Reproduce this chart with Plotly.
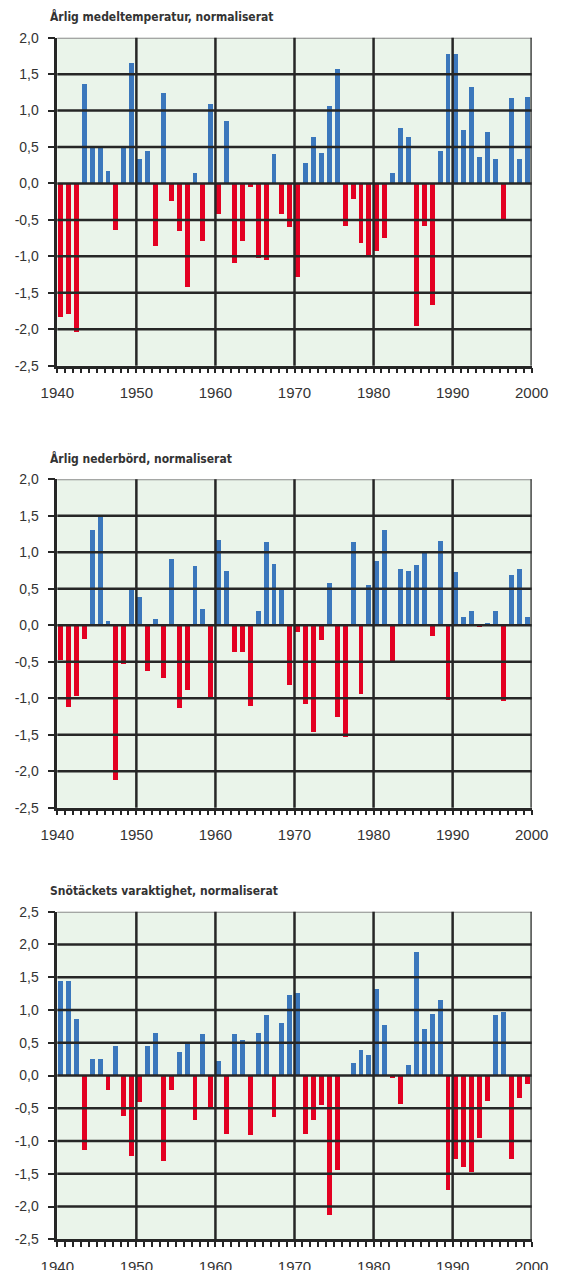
import plotly.graph_objects as go

years = list(range(1940, 2000))

temperature = [
    -1.83, -1.78, -2.04, 1.37, 0.52, 0.49, 0.18, -0.63, 0.52, 1.66,
    0.34, 0.45, -0.85, 1.25, -0.23, -0.65, -1.42, 0.15, -0.78, 1.10,
    -0.42, 0.86, -1.08, -0.79, -0.04, -1.02, -1.05, 0.41, -0.41, -0.59,
    -1.28, 0.29, 0.64, 0.42, 1.07, 1.58, -0.58, -0.21, -0.81, -1.00,
    -0.92, -0.74, 0.15, 0.77, 0.64, -1.95, -0.58, -1.66, 0.45, 1.78,
    1.78, 0.74, 1.33, 0.37, 0.71, 0.34, -0.48, 1.18, 0.34, 1.19,
]

precipitation = [
    -0.48, -1.13, -0.97, -0.19, 1.30, 1.50, 0.05, -2.13, -0.54, 0.49,
    0.38, -0.63, 0.08, -0.73, 0.91, -1.14, -0.89, 0.81, 0.22, -1.00,
    1.17, 0.74, -0.37, -0.37, -1.11, 0.19, 1.14, 0.84, 0.49, -0.82,
    -0.10, -1.08, -1.46, -0.21, 0.58, -1.26, -1.54, 1.14, -0.95, 0.55,
    0.88, 1.30, -0.49, 0.76, 0.74, 0.82, 0.99, -0.15, 1.15, -1.03,
    0.73, 0.11, 0.19, -0.03, 0.03, 0.19, -1.04, 0.69, 0.76, 0.11,
]

snow_cover = [
    1.45, 1.45, 0.87, -1.13, 0.26, 0.26, -0.22, 0.46, -0.61, -1.23,
    -0.40, 0.45, 0.66, -1.30, -0.22, 0.37, 0.49, -0.68, 0.64, -0.50,
    0.22, -0.89, 0.64, 0.55, -0.90, 0.66, 0.93, -0.63, 0.80, 1.24,
    1.27, -0.89, -0.68, -0.45, -2.12, -1.44, 0.00, 0.19, 0.39, 0.31,
    1.33, 0.78, -0.04, -0.43, 0.17, 1.89, 0.71, 0.95, 1.16, -1.74,
    -1.27, -1.39, -1.47, -0.95, -0.39, 0.93, 0.98, -1.27, -0.34, -0.13,
]

titles = [
    "Årlig medeltemperatur, normaliserat",
    "Årlig nederbörd, normaliserat",
    "Snötäckets varaktighet, normaliserat",
]

yticks_a = [2.0, 1.5, 1.0, 0.5, 0.0, -0.5, -1.0, -1.5, -2.0, -2.5]
yticktext_a = ["2,0", "1,5", "1,0", "0,5", "0,0", "-0,5", "-1,0", "-1,5", "-2,0", "-2,5"]
yticks_b = [2.5, 2.0, 1.5, 1.0, 0.5, 0.0, -0.5, -1.0, -1.5, -2.0, -2.5]
yticktext_b = ["2,5", "2,0", "1,5", "1,0", "0,5", "0,0", "-0,5", "-1,0", "-1,5", "-2,0", "-2,5"]
decades = [1940, 1950, 1960, 1970, 1980, 1990, 2000]
decade_labels = ["1940", "1950", "1960", "1970", "1980", "1990", "2000"]

BLUE = "#3b77bc"
RED = "#e30022"
BG = "#eaf4ea"
DARK = "#262626"
TXT = "#333333"

W, H = 563, 1270
OFF = 8  # page body margin shifts the figure by this many pixels
x_dom = [(57.3 - OFF) / W, (531.7 - OFF) / W]
panels_px = [(37.7, 365.7), (479.3, 807.7), (911.7, 1239.3)]
title_y_px = [17, 459, 891]
title_x_px = 48

series = [temperature, precipitation, snow_cover]
yticks = [yticks_a, yticks_a, yticks_b]
ytext = [yticktext_a, yticktext_a, yticktext_b]

fig = go.Figure()
shapes = []
annotations = []

for i in range(3):
    n = "" if i == 0 else str(i + 1)
    xa, ya = "x" + n, "y" + n
    vals = series[i]
    colors = [BLUE if v >= 0 else RED for v in vals]
    fig.add_trace(go.Bar(
        x=years, y=vals, width=0.62, offset=0.14,
        marker=dict(color=colors, line=dict(width=0)),
        xaxis=xa, yaxis=ya, showlegend=False, hoverinfo="x+y",
    ))
    top, bot = panels_px[i]
    ymin, ymax = min(yticks[i]), max(yticks[i])
    fig.layout["xaxis" + n] = dict(
        domain=x_dom, range=[1940, 2000], anchor=ya, automargin=False,
        tickvals=decades, ticktext=decade_labels,
        ticks="outside", ticklen=5, tickwidth=2, tickcolor=DARK,
        minor=dict(dtick=1, tick0=1940, ticks="outside", ticklen=5, tickwidth=2, tickcolor=DARK, showgrid=False),
        showgrid=False, zeroline=False,
        showline=True, linecolor=DARK, linewidth=2.5,
        tickfont=dict(family="Liberation Sans, Arial, sans-serif", size=15, color=TXT),
        ticklabelstandoff=7, fixedrange=True,
    )
    fig.layout["yaxis" + n] = dict(
        domain=[1 - (bot - OFF) / H, 1 - (top - OFF) / H], range=[ymin, ymax], anchor=xa, automargin=False,
        tickvals=yticks[i], ticktext=ytext[i],
        ticks="outside", ticklen=7, tickwidth=2, tickcolor=DARK,
        showgrid=False, zeroline=False,
        showline=True, linecolor=DARK, linewidth=2.5,
        tickfont=dict(family="Liberation Sans, Arial, sans-serif", size=14, color=TXT),
        ticklabelstandoff=6, fixedrange=True,
    )
    # plot background
    shapes.append(dict(type="rect", xref=xa + " domain", yref=ya + " domain",
                       x0=0, x1=1, y0=0, y1=1, fillcolor=BG, line=dict(width=0), layer="below"))
    # horizontal grid lines (drawn above the bars)
    for v in yticks[i]:
        if v == ymin:
            continue
        if v == ymax:
            shapes.append(dict(type="line", xref=xa + " domain", yref=ya, x0=0, x1=1, y0=v, y1=v,
                               line=dict(color="#8c8c8c", width=2), layer="above"))
        else:
            shapes.append(dict(type="line", xref=xa + " domain", yref=ya, x0=0, x1=1, y0=v, y1=v,
                               line=dict(color=DARK, width=2.5), layer="above"))
    # vertical decade lines
    for d in decades[1:]:
        shapes.append(dict(type="line", xref=xa, yref=ya + " domain", x0=d, x1=d, y0=0, y1=1,
                           line=dict(color=DARK, width=2.5), layer="above"))
    annotations.append(dict(
        text="<b>" + titles[i] + "</b>", xref="paper", yref="paper",
        x=(title_x_px - OFF) / W, y=1 - (title_y_px[i] - OFF) / H, xanchor="left", yanchor="middle",
        showarrow=False,
        font=dict(family="DejaVu Sans Condensed, Liberation Sans, sans-serif", size=12, color=TXT),
    ))

fig.update_layout(
    width=W, height=H,
    margin=dict(l=0, r=0, t=0, b=0, pad=0, autoexpand=False),
    paper_bgcolor="white", plot_bgcolor="rgba(0,0,0,0)",
    bargap=0, shapes=shapes, annotations=annotations,
    showlegend=False,
)

fig.write_html("out.html")
